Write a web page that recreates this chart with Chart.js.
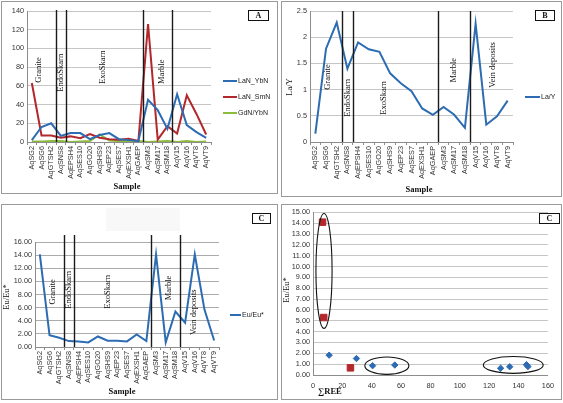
<!DOCTYPE html>
<html>
<head>
<meta charset="utf-8">
<script src="https://cdn.jsdelivr.net/npm/chart.js@4.4.0/dist/chart.umd.min.js"></script>
<style>
html, body { margin: 0; padding: 0; background: #fff; }
body { width: 563px; height: 403px; position: relative; overflow: hidden; }
.panel { position: absolute; border: 1px solid #9a9a9a; box-sizing: border-box; background: #fff; }
canvas { display: block; }
</style>
</head>
<body>
<div class="panel" style="left:1px;top:1px;width:277px;height:193px"><canvas id="cA" width="275" height="191"></canvas></div>
<div class="panel" style="left:281px;top:1px;width:281px;height:196px"><canvas id="cB" width="279" height="194"></canvas></div>
<div class="panel" style="left:1px;top:204px;width:277px;height:196px"><canvas id="cC" width="275" height="194"></canvas></div>
<div class="panel" style="left:281px;top:204px;width:281px;height:196px"><canvas id="cD" width="279" height="194"></canvas></div>
<script>
// sample order along the x axis (panels A, B, C)
const samples = ['AqSG2', 'AqSG6', 'AqGTSH2', 'AqSNS8', 'AqEPSH4', 'AqSES10', 'AqGO20', 'AqSHS9', 'AqEP23', 'AqSES7',
    'AqEXSH1', 'AqGAEP', 'AqSM3', 'AqSM17', 'AqSM18', 'AqV15', 'AqV16', 'AqVT8', 'AqVT9'];

// panel A
const laYbN = [2, 16, 20, 6.5, 9.5, 9.5, 3, 7.5, 9.5, 3, 2, 1, 45, 34, 14, 51, 18, 10.5, 4.5];
const laSmN = [63, 7, 7, 4.5, 6, 4, 8.5, 4.5, 3, 2.5, 3.5, 1, 126, 2.5, 17, 9, 50, 30, 8];
const gdYbN = [0.5, 0.5, 1, 1, 0, 0.5, 1, 8, 1.5, 1, 1, 1, 0, 0.5, 1, 0, 1, 0, 0.5];

// panel B
const laY = [0.16, 1.78, 2.28, 1.4, 1.9, 1.77, 1.72, 1.31, 1.12, 0.97, 0.64, 0.52, 0.67, 0.52, 0.27, 2.26, 0.33, 0.49, 0.79];

// panel C
const euEu = [14.1, 1.8, 1.4, 0.9, 0.85, 0.7, 1.6, 0.95, 0.95, 0.85, 1.9, 0.9, 14.1, 0.7, 5.4, 3.7, 14.1, 5.7, 1.0];

// panel D (scatter)
const reeBlue = [11, 29.6, 40.6, 55.7, 127.8, 134, 145.4, 146.4];
const euBlue = [1.83, 1.52, 0.86, 0.92, 0.62, 0.76, 0.95, 0.78];
const reeRed = [6.5, 7.3, 25.5];
const euRed = [14.1, 5.3, 0.66];

// the rock-type dividers sit after these sample indices
const zoneBreaks = [2, 3, 11, 14];

const BLUE = '#2d6cb2', RED = '#b2282c', GREEN = '#8dbb3c';
const SERIF = "'Liberation Serif', 'Times New Roman', serif";

Chart.defaults.font.family = "'Liberation Sans', Arial, sans-serif";
Chart.defaults.font.size = 7.3;
Chart.defaults.color = '#333';

function rotText(ctx, txt, x, y, font) {
    ctx.save();
    ctx.translate(x, y);
    ctx.rotate(-Math.PI / 2);
    ctx.font = font;
    ctx.textAlign = 'center';
    ctx.textBaseline = 'middle';
    ctx.fillStyle = '#111';
    ctx.fillText(txt, 0, 0);
    ctx.restore();
}

// extra drawing: dividers, zone names, legend, tag box, axis titles, ellipses
function decor(o) {
    return {
        id: 'decor',
        afterDraw(chart) {
            const ctx = chart.ctx, a = chart.chartArea, xs = chart.scales.x, ys = chart.scales.y;
            ctx.save();
            if (o.shade) {
                ctx.fillStyle = '#f8f8f8';
                ctx.fillRect(o.shade[0], o.shade[1], o.shade[2], o.shade[3]);
            }
            if (o.breakTop !== undefined) {
                ctx.strokeStyle = '#1a1a1a';
                ctx.lineWidth = 1.4;
                zoneBreaks.forEach(i => {
                    const px = Math.round(xs.getPixelForValue(i + 0.5)) + 0.5;
                    ctx.beginPath();
                    ctx.moveTo(px, o.breakTop);
                    ctx.lineTo(px, a.bottom);
                    ctx.stroke();
                });
            }
            (o.zones || []).forEach(z => rotText(ctx, z[0], xs.getPixelForValue(z[1]), ys.getPixelForValue(z[2]), '8.5px ' + SERIF));
            if (o.legend) {
                const L = o.legend;
                chart.data.datasets.forEach((ds, i) => {
                    const yy = L.y + i * 16;
                    ctx.strokeStyle = ds.borderColor;
                    ctx.lineWidth = 2;
                    ctx.beginPath();
                    ctx.moveTo(L.x, yy);
                    ctx.lineTo(L.x + L.len, yy);
                    ctx.stroke();
                    ctx.fillStyle = '#222';
                    ctx.font = "7px 'Liberation Sans', Arial, sans-serif";
                    ctx.textAlign = 'left';
                    ctx.textBaseline = 'middle';
                    ctx.fillText(ds.label, L.x + L.len + 1, yy);
                });
            }
            (o.rings || []).forEach(r => {
                const cx = xs.getPixelForValue(r[0]), cy = ys.getPixelForValue(r[1]);
                const rx = Math.abs(xs.getPixelForValue(r[0] + r[2]) - cx);
                const ry = Math.abs(ys.getPixelForValue(r[1] + r[3]) - cy);
                ctx.strokeStyle = '#111';
                ctx.lineWidth = 1.1;
                ctx.beginPath();
                ctx.ellipse(cx, cy, rx, ry, 0, 0, Math.PI * 2);
                ctx.stroke();
            });
            if (o.tag) {
                const t = o.tag;
                ctx.fillStyle = '#fff';
                ctx.fillRect(t.x, t.y, t.w, t.h);
                ctx.strokeStyle = '#111';
                ctx.lineWidth = 1;
                ctx.strokeRect(t.x + 0.5, t.y + 0.5, t.w, t.h);
                ctx.fillStyle = '#111';
                ctx.font = 'bold 8px ' + SERIF;
                ctx.textAlign = 'center';
                ctx.textBaseline = 'middle';
                ctx.fillText(t.text, t.x + t.w / 2 + 0.5, t.y + t.h / 2 + 1);
            }
            if (o.xTitle) {
                ctx.fillStyle = '#111';
                ctx.font = 'bold 8.5px ' + SERIF;
                ctx.textAlign = 'center';
                ctx.textBaseline = 'middle';
                ctx.fillText(o.xTitle[0], o.xTitle[1], o.xTitle[2]);
            }
            if (o.yTitle) rotText(ctx, o.yTitle[0], o.yTitle[1], o.yTitle[2], '8.5px ' + SERIF);
            ctx.restore();
        }
    };
}

function lineOpts(p) {
    return {
        responsive: false,
        animation: false,
        layout: { padding: { top: p.top, right: p.right, left: 0, bottom: 0 } },
        elements: { line: { borderWidth: 2, tension: 0 }, point: { radius: 0 } },
        plugins: { legend: { display: false }, tooltip: { enabled: false } },
        scales: {
            x: {
                offset: true,
                afterFit: s => { s.height = p.xH; },
                grid: { offset: true, drawOnChartArea: false, tickLength: 3, color: '#8c8c8c' },
                border: { color: '#8c8c8c' },
                ticks: { autoSkip: false, minRotation: 90, maxRotation: 90, padding: 1 }
            },
            y: {
                min: p.min, max: p.max,
                afterFit: s => { s.width = p.yW; },
                grid: { color: p.gridColor || '#c6c6c6', drawTicks: false },
                border: { color: '#8c8c8c' },
                ticks: { stepSize: p.step, padding: 3, autoSkip: false, callback: p.fmt }
            }
        }
    };
}

// A
new Chart(document.getElementById('cA'), {
    type: 'line',
    data: {
        labels: samples,
        datasets: [
            { label: 'LaN_YbN', data: laYbN, borderColor: BLUE },
            { label: 'LaN_SmN', data: laSmN, borderColor: RED },
            { label: 'GdN/YbN', data: gdYbN, borderColor: GREEN }
        ]
    },
    options: lineOpts({ top: 9, right: 66, yW: 25, xH: 51, min: 0, max: 140, step: 20, fmt: v => v }),
    plugins: [decor({
        breakTop: 8,
        zones: [['Granite', 0.75, 77], ['EndoSkarn', 3.0, 74], ['ExoSkarn', 7.3, 80], ['Marble', 13.4, 75]],
        legend: { x: 221, y: 79, len: 14 },
        tag: { text: 'A', x: 246, y: 8, w: 20, h: 10 },
        xTitle: ['Sample', 125, 185]
    })]
});

// B
new Chart(document.getElementById('cB'), {
    type: 'line',
    data: { labels: samples, datasets: [{ label: 'La/Y', data: laY, borderColor: BLUE }] },
    options: lineOpts({ top: 9, right: 48, yW: 28, xH: 54, min: 0, max: 2.5, step: 0.5, fmt: v => v }),
    plugins: [decor({
        breakTop: 9,
        zones: [['Granite', 1.2, 1.24], ['EndoSkarn', 3.0, 0.84], ['ExoSkarn', 6.4, 0.84], ['Marble', 13.0, 1.37], ['Vein deposits', 16.6, 1.47]],
        legend: { x: 243, y: 95, len: 15 },
        tag: { text: 'B', x: 253, y: 8, w: 19, h: 10 },
        xTitle: ['Sample', 137, 188],
        yTitle: ['La/Y', 8, 85]
    })]
});

// C
new Chart(document.getElementById('cC'), {
    type: 'line',
    data: { labels: samples, datasets: [{ label: 'Eu/Eu*', data: euEu, borderColor: BLUE }] },
    options: lineOpts({ top: 37, right: 58, yW: 33, xH: 52, min: 0, max: 16, step: 2, fmt: v => v.toFixed(2), gridColor: '#ababab' }),
    plugins: [decor({
        shade: [104, 3, 74, 23],
        breakTop: 30,
        zones: [['Granite', 1.3, 8.4], ['EndoSkarn', 2.95, 8.7], ['ExoSkarn', 7.0, 8.4], ['Marble', 13.3, 9.0], ['Vein deposits', 15.9, 5.3]],
        legend: { x: 228, y: 110, len: 11 },
        tag: { text: 'C', x: 250, y: 8, w: 18, h: 10 },
        xTitle: ['Sample', 120, 187],
        yTitle: ['Eu/Eu*', 5, 92]
    })]
});

// D
new Chart(document.getElementById('cD'), {
    type: 'scatter',
    data: {
        datasets: [
            { label: 'blue', data: reeBlue.map((v, i) => ({ x: v, y: euBlue[i] })), pointStyle: 'rectRot', radius: 3.2, backgroundColor: BLUE, borderColor: BLUE },
            { label: 'red', data: reeRed.map((v, i) => ({ x: v, y: euRed[i] })), pointStyle: 'rect', radius: 4.6, backgroundColor: RED, borderColor: RED }
        ]
    },
    options: {
        responsive: false,
        animation: false,
        layout: { padding: { top: 5, right: 13, left: 0, bottom: 0 } },
        plugins: { legend: { display: false }, tooltip: { enabled: false } },
        scales: {
            x: {
                type: 'linear', min: 0, max: 160,
                afterFit: s => { s.height = 24; },
                grid: { drawOnChartArea: false, drawTicks: false },
                border: { color: '#8c8c8c' },
                ticks: { stepSize: 20, padding: 7, maxRotation: 0 }
            },
            y: {
                min: 0, max: 15,
                afterFit: s => { s.width = 31; },
                grid: { color: '#c6c6c6', drawTicks: false },
                border: { color: '#8c8c8c' },
                ticks: { stepSize: 1, padding: 3, autoSkip: false, callback: v => v.toFixed(2) }
            }
        }
    },
    plugins: [decor({
        rings: [[7.5, 9.6, 5.5, 5.3], [50.3, 0.86, 15, 0.8], [136.4, 0.93, 20.4, 0.78]],
        tag: { text: 'C', x: 257, y: 8, w: 20, h: 10 },
        xTitle: ['\u2211REE', 48, 187],
        yTitle: ['Eu/Eu*', 5, 85]
    })]
});
</script>
</body>
</html>
